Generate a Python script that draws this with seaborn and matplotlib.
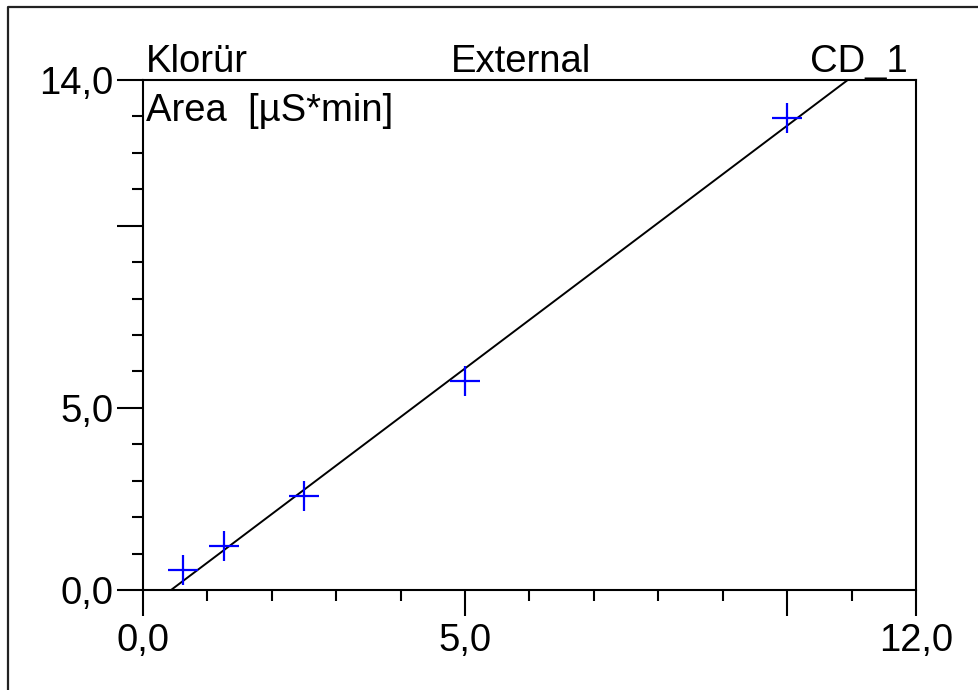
import matplotlib
matplotlib.use("Agg")
import matplotlib.pyplot as plt
from matplotlib.lines import Line2D
from matplotlib.ticker import MultipleLocator, FixedLocator, FixedFormatter
import numpy as np
import pandas as pd
import seaborn as sns

# ---- data ----
amount = [0.625, 1.25, 2.5, 5.0, 10.0]
area = [0.55, 1.21, 2.59, 5.75, 12.95]
fit_slope = 1.3327
fit_intercept = -0.58
x_major = [0, 5, 10, 12]
x_labels = ["0,0", "5,0", "", "12,0"]
y_major = [0, 5, 10, 14]
y_labels = ["0,0", "5,0", "", "14,0"]
title_left = "Klorür"
title_center = "External"
title_right = "CD_1"
y_title = "Area  [µS*min]"

sns.set_theme(style="white")
plt.rcParams["font.family"] = ["Liberation Sans", "DejaVu Sans"]
plt.rcParams["text.color"] = "black"
FS = 27.5

fig = plt.figure(figsize=(9.79, 6.90), dpi=100)
ax = fig.add_axes([143/979, 1-590/690, (916-143)/979, (590-80)/690])

df = pd.DataFrame({"x": amount, "y": area})
fit_x = np.array([0.0, 12.0])
fit_df = pd.DataFrame({"x": fit_x, "y": fit_slope*fit_x + fit_intercept})

sns.lineplot(data=fit_df, x="x", y="y", ax=ax, color="black", linewidth=1.4)
sns.scatterplot(data=df, x="x", y="y", ax=ax, marker="+", s=440,
                color="#0000FF", linewidth=1.6, zorder=5)

ax.set_xlim(0, 12)
ax.set_ylim(0, 14)
ax.set_xlabel("")
ax.set_ylabel("")

for s in ax.spines.values():
    s.set_visible(True)
    s.set_color("black")
    s.set_linewidth(1.5)

ax.xaxis.set_major_locator(FixedLocator(x_major))
ax.xaxis.set_major_formatter(FixedFormatter(x_labels))
ax.yaxis.set_major_locator(FixedLocator(y_major))
ax.yaxis.set_major_formatter(FixedFormatter(y_labels))
ax.xaxis.set_minor_locator(MultipleLocator(1))
ax.yaxis.set_minor_locator(MultipleLocator(1))
ax.tick_params(which="both", direction="out", color="black", width=1.5,
               bottom=True, left=True, top=False, right=False)
ax.tick_params(axis="x", which="major", length=19, pad=5, labelsize=FS, labelcolor="black")
ax.tick_params(axis="y", which="major", length=19, pad=2, labelsize=FS, labelcolor="black")
ax.tick_params(which="minor", length=8)
ax.grid(False)

# titles above axes
fig.text(146/979, 1-72/690, title_left, fontsize=FS, ha="left", va="baseline", color="black")
fig.text(521/979, 1-72/690, title_center, fontsize=FS, ha="center", va="baseline", color="black")
fig.text(908/979, 1-72/690, title_right, fontsize=FS, ha="right", va="baseline", color="black")
fig.text(146/979, 1-121/690, y_title, fontsize=FS, ha="left", va="baseline", color="black")

# outer frame (top and left edges)
fig.add_artist(Line2D([8/979, 8/979, 1.0], [0.0, 1-7/690, 1-7/690],
                      transform=fig.transFigure, color="#222222", linewidth=1.6))

fig.savefig("out.png", dpi=100, facecolor="white")
